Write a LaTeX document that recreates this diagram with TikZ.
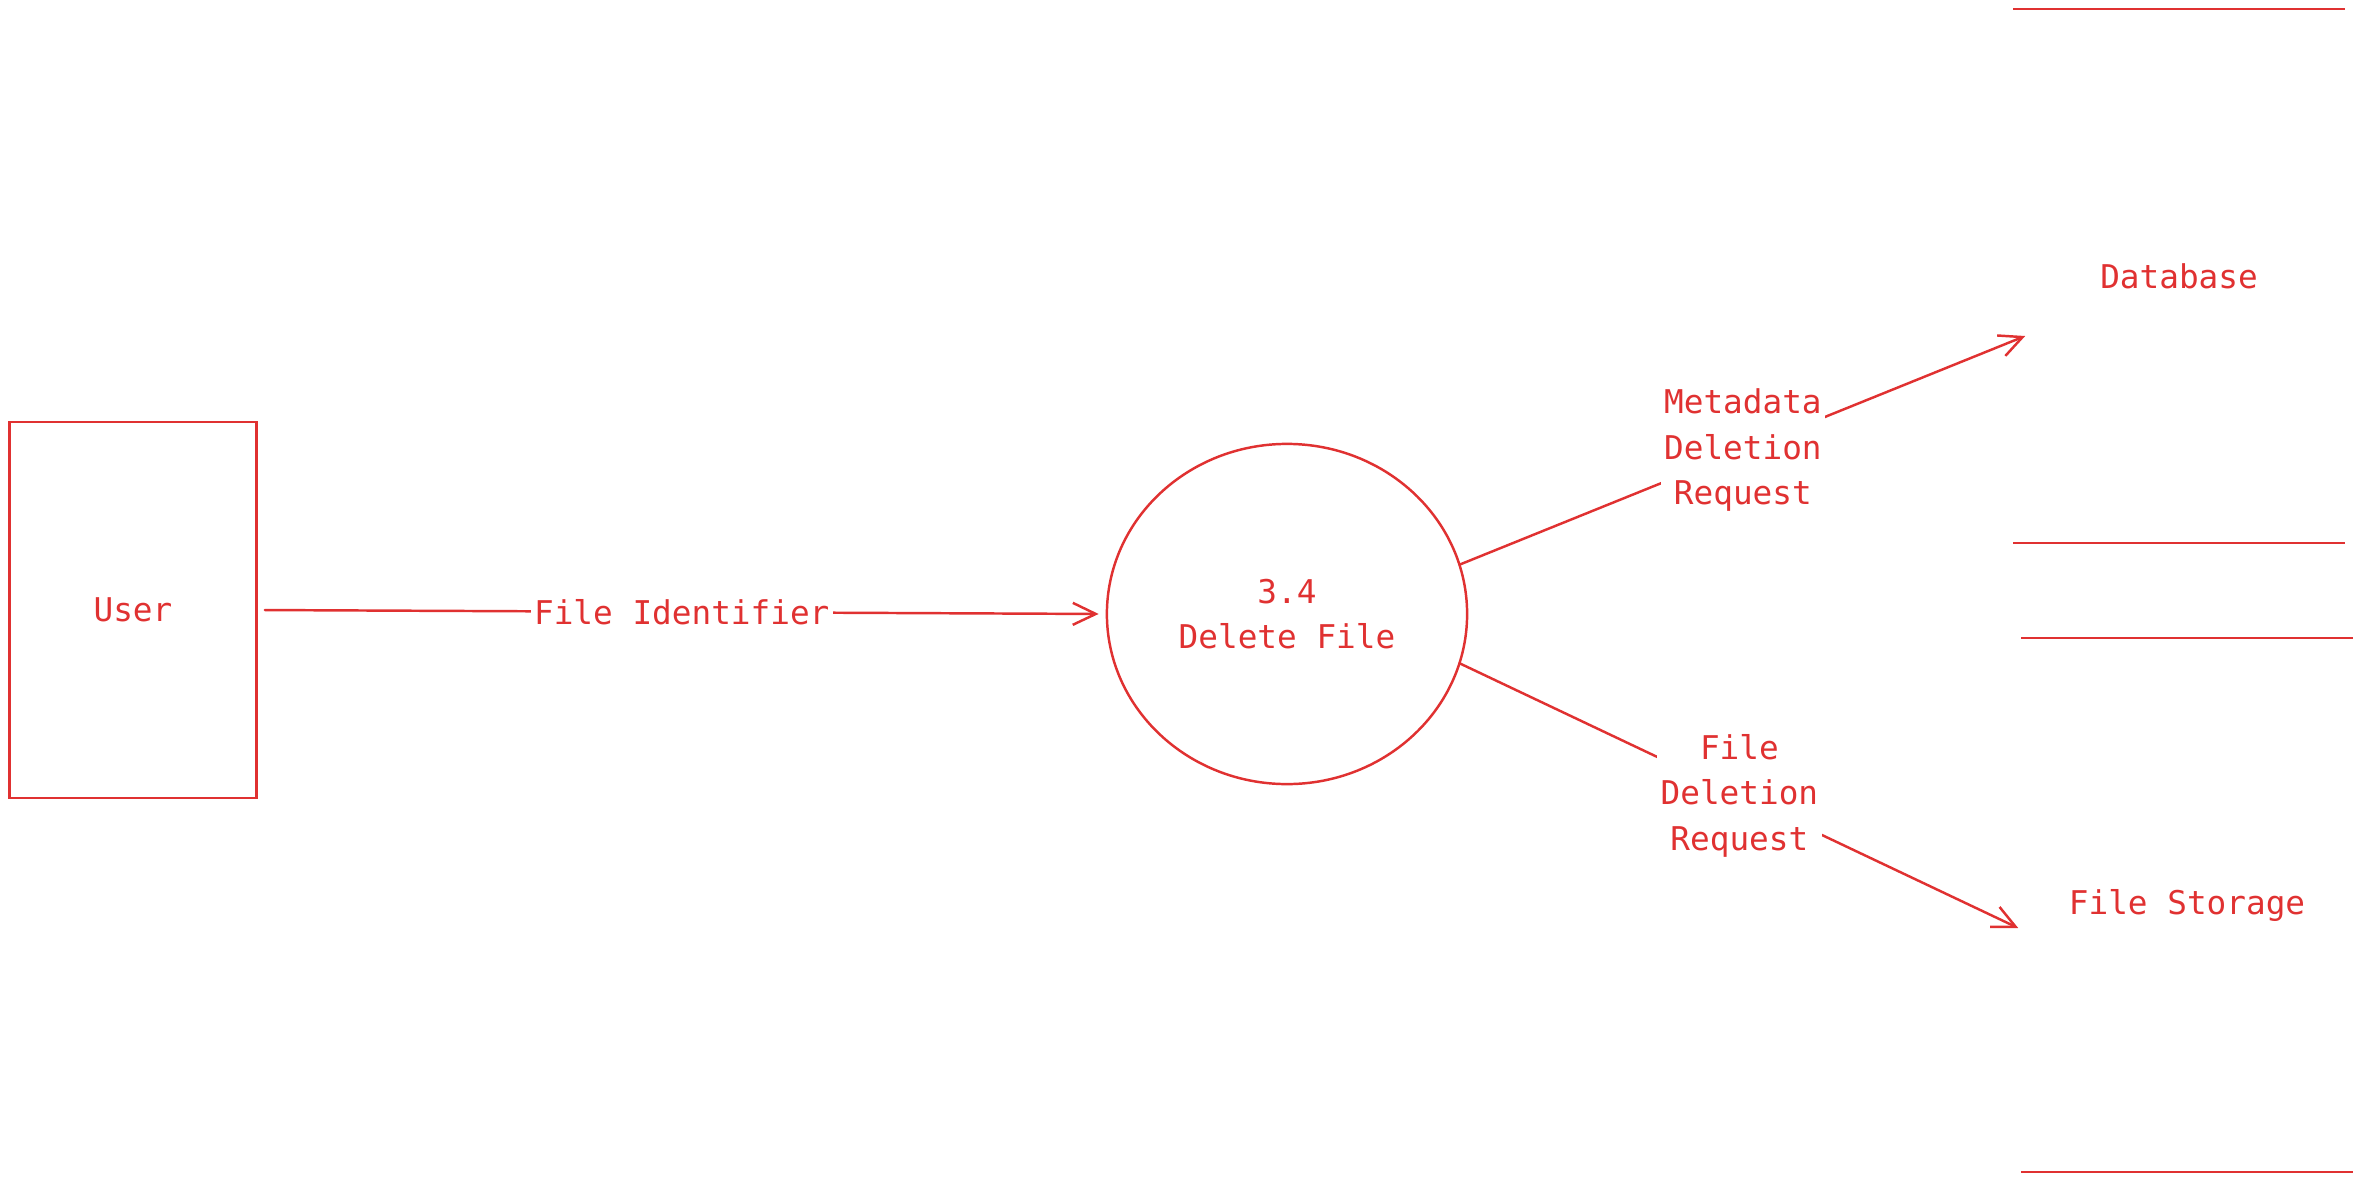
\documentclass[tikz,border=0pt]{standalone}
\usepackage{fontspec}
\setmonofont{DejaVu Sans Mono}
\usepackage{xcolor}
\usetikzlibrary{shapes.geometric,arrows.meta}
\definecolor{dfdred}{HTML}{E03131}

\begin{document}
\begin{tikzpicture}[
  x=0.01cm, y=-0.01cm,
  every node/.style = {font=\fontsize{9.3}{13}\selectfont\ttfamily, text=dfdred},
  entity/.style  = {rectangle, draw=dfdred, line width=0.7pt,
                    minimum width=2.47cm, minimum height=3.76cm},
  process/.style = {ellipse, draw=dfdred, line width=0.7pt, align=center,
                    minimum width=3.6cm, minimum height=3.4cm},
  store/.style   = {rectangle, minimum width=3.3cm, minimum height=5.32cm},
  rim/.style     = {dfdred, line width=0.7pt},
  flow/.style    = {-{Straight Barb[length=2.3mm,width=2.2mm]}, dfdred,
                    line width=0.7pt, line cap=round},
  lbl/.style     = {fill=white, inner sep=1pt, align=center}
]
\useasboundingbox (0,0) rectangle (2361,1182);

%% External entity
\node[entity] (user) at (133, 610) {User};

%% Process
\node[process] (proc) at (1287, 614) {3.4\\Delete File};

%% Data stores
\node[store] (db) at (2179, 276) {Database};
\node[store] (fs) at (2187, 905) {File Storage};
\draw[rim] (db.north west) -- (db.north east) (db.south west) -- (db.south east);
\draw[rim] (fs.north west) -- (fs.north east) (fs.south west) -- (fs.south east);

%% Flows
\draw[flow, shorten <=2pt, shorten >=2pt] (user.east) -- node[lbl] {File Identifier} (proc.west);
\draw[flow] (proc.16)  -- node[lbl] {Metadata\\Deletion\\Request} ([shift={(12,60)}]db.west);
\draw[flow] (proc.-16) -- node[lbl] {File\\Deletion\\Request} ([shift={(-3,23)}]fs.west);
\end{tikzpicture}
\end{document}
